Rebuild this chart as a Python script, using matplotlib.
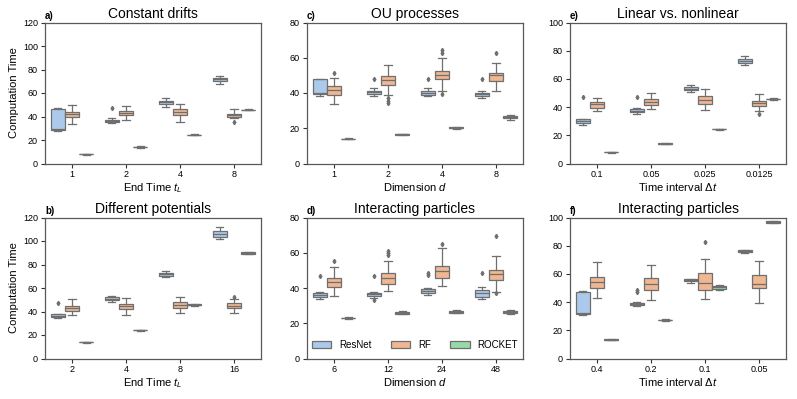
import colorsys
import matplotlib
matplotlib.use("Agg")
import matplotlib.pyplot as plt
import matplotlib.colors as mcolors
from matplotlib.patches import Patch

plt.rcParams['font.family'] = ['Liberation Sans', 'DejaVu Sans']
plt.rcParams['mathtext.fontset'] = 'custom'
plt.rcParams['mathtext.rm'] = 'Liberation Sans'
plt.rcParams['mathtext.it'] = 'Liberation Sans:italic'

METHODS = ["ResNet", "RF", "ROCKET"]
BASE_COLORS = ["#a1c9f4", "#ffb482", "#8de5a1"]

# five-number summaries per category: [whislo, q1, median, q3, whishi]
# ---- a) Constant drifts
A_CATS = ["1", "2", "4", "8"]
A_RESNET = [[27.3, 28.5, 29.5, 46.5, 47.2], [34.2, 35.1, 36.3, 37.4, 38.3],
            [48.4, 50.7, 52.4, 53.5, 55.8], [68.0, 70.2, 71.6, 73.0, 74.4]]
A_RESNET_FL = [[], [47.3], [], []]
A_RF = [[33.7, 39.7, 41.8, 43.9, 49.8], [36.8, 41.0, 43.0, 44.8, 49.3],
        [35.1, 41.4, 44.1, 46.4, 50.4], [38.8, 39.7, 41.0, 42.5, 46.1]]
A_RF_FL = [[], [], [], [35.2]]
A_ROCKET = [[7.5, 7.7, 7.9, 8.1, 8.4], [13.4, 13.7, 13.9, 14.1, 14.5],
            [24.1, 24.2, 24.4, 24.6, 24.8], [45.2, 45.4, 45.6, 45.9, 46.1]]
A_ROCKET_FL = [[], [], [], []]

# ---- b) Different potentials
B_CATS = ["2", "4", "8", "16"]
B_RESNET = [[34.2, 35.0, 36.4, 37.5, 38.1], [48.2, 49.5, 50.9, 52.3, 53.4],
            [69.4, 70.5, 71.6, 72.8, 74.2], [101.8, 103.8, 106.3, 108.3, 112.3]]
B_RESNET_FL = [[47.2], [], [], []]
B_RF = [[36.7, 40.4, 42.9, 44.9, 50.3], [36.7, 42.1, 44.4, 46.6, 51.2],
        [38.4, 42.9, 45.3, 47.8, 52.3], [38.8, 42.6, 44.4, 46.9, 51.0]]
B_RF_FL = [[], [], [], [52.5]]
B_ROCKET = [[13.6, 13.8, 13.9, 14.0, 14.2], [23.8, 24.0, 24.2, 24.4, 24.6],
            [45.0, 45.5, 45.8, 46.1, 46.6], [88.7, 89.0, 89.8, 90.4, 90.6]]
B_ROCKET_FL = [[], [], [], []]

# ---- c) OU processes
C_CATS = ["1", "2", "4", "8"]
C_RESNET = [[38.5, 39.2, 40.2, 47.8, 48.1], [38.1, 39.6, 40.6, 41.3, 42.6],
            [38.1, 38.8, 40.0, 40.9, 42.6], [37.0, 38.3, 39.3, 40.0, 41.0]]
C_RESNET_FL = [[], [48.1], [48.1], [48.1]]
C_RF = [[33.5, 39.0, 41.7, 43.9, 48.7], [39.0, 44.5, 47.4, 49.8, 56.1],
        [41.0, 48.1, 50.4, 52.7, 59.8], [41.3, 47.0, 50.3, 51.6, 56.9]]
C_RF_FL = [[51.2], [37.0, 35.4, 34.2], [39.5, 62.5, 64.5], [62.9]]
C_ROCKET = [[13.8, 13.9, 14.0, 14.1, 14.2], [16.3, 16.4, 16.5, 16.6, 16.7],
            [19.8, 20.1, 20.3, 20.5, 20.8], [24.8, 25.8, 26.3, 27.0, 27.8]]
C_ROCKET_FL = [[], [], [], []]

# ---- d) Interacting particles (dimension)
D_CATS = ["6", "12", "24", "48"]
D_RESNET = [[34.0, 34.7, 35.8, 37.0, 37.7], [34.3, 35.7, 36.4, 37.2, 37.5],
            [36.3, 37.0, 38.3, 39.2, 40.0], [33.5, 35.1, 37.0, 38.7, 40.3]]
D_RESNET_FL = [[46.8], [33.3, 46.8], [47.3, 48.4], [48.4]]
D_RF = [[35.6, 40.8, 43.6, 45.9, 51.7], [38.1, 42.3, 45.5, 48.7, 55.1],
        [41.1, 45.7, 49.5, 52.5, 62.7], [37.6, 44.7, 47.8, 50.4, 58.2]]
D_RF_FL = [[55.3], [58.8, 60.0, 61.0], [65.2], [37.0, 69.5]]
D_ROCKET = [[22.5, 22.7, 22.9, 23.1, 23.4], [25.2, 25.4, 26.0, 26.6, 26.9],
            [25.6, 25.9, 26.6, 26.9, 27.8], [25.2, 25.6, 26.2, 26.7, 27.6]]
D_ROCKET_FL = [[], [], [], []]

# ---- e) Linear vs. nonlinear
E_CATS = ["0.1", "0.05", "0.025", "0.0125"]
E_RESNET = [[27.5, 28.7, 30.0, 31.3, 31.7], [35.2, 36.2, 37.4, 38.6, 39.3],
            [50.5, 52.1, 53.0, 54.0, 55.5], [69.6, 71.3, 72.7, 74.1, 76.5]]
E_RESNET_FL = [[47.1], [47.3], [], []]
E_RF = [[37.0, 39.3, 41.9, 43.8, 46.6], [38.3, 41.7, 43.8, 46.0, 50.2],
        [37.7, 41.9, 44.8, 47.6, 52.8], [37.5, 41.0, 42.9, 44.6, 49.0]]
E_RF_FL = [[], [], [], [35.2]]
E_ROCKET = [[7.8, 7.9, 8.1, 8.2, 8.4], [13.6, 13.8, 14.0, 14.2, 14.8],
            [24.1, 24.2, 24.4, 24.6, 24.8], [45.2, 45.5, 45.7, 45.9, 46.1]]
E_ROCKET_FL = [[], [], [], []]

# ---- f) Interacting particles (time interval)
F_CATS = ["0.4", "0.2", "0.1", "0.05"]
F_RESNET = [[31.0, 31.8, 32.4, 47.1, 48.1], [37.2, 37.7, 38.6, 39.6, 40.0],
            [53.5, 54.7, 55.4, 56.1, 56.6], [75.1, 75.3, 76.1, 77.0, 77.2]]
F_RESNET_FL = [[], [46.9, 48.8], [], []]
F_RF = [[42.9, 50.2, 54.0, 58.1, 68.5], [41.5, 48.5, 52.8, 57.3, 66.6],
        [42.4, 48.5, 53.8, 60.4, 70.8], [39.6, 49.8, 52.6, 59.0, 68.9]]
F_RF_FL = [[], [], [82.9], []]
F_ROCKET = [[13.0, 13.2, 13.3, 13.5, 13.8], [26.8, 27.0, 27.2, 27.5, 27.9],
            [48.8, 49.5, 50.7, 51.6, 52.3], [95.9, 96.0, 96.9, 97.5, 97.7]]
F_ROCKET_FL = [[], [], [], []]

PANELS = [
    ("a)", "Constant drifts", "End Time $t_L$", A_CATS, 120,
     [(A_RESNET, A_RESNET_FL), (A_RF, A_RF_FL), (A_ROCKET, A_ROCKET_FL)]),
    ("c)", "OU processes", "Dimension $d$", C_CATS, 80,
     [(C_RESNET, C_RESNET_FL), (C_RF, C_RF_FL), (C_ROCKET, C_ROCKET_FL)]),
    ("e)", "Linear vs. nonlinear", "Time interval $\\Delta t$", E_CATS, 100,
     [(E_RESNET, E_RESNET_FL), (E_RF, E_RF_FL), (E_ROCKET, E_ROCKET_FL)]),
    ("b)", "Different potentials", "End Time $t_L$", B_CATS, 120,
     [(B_RESNET, B_RESNET_FL), (B_RF, B_RF_FL), (B_ROCKET, B_ROCKET_FL)]),
    ("d)", "Interacting particles", "Dimension $d$", D_CATS, 80,
     [(D_RESNET, D_RESNET_FL), (D_RF, D_RF_FL), (D_ROCKET, D_ROCKET_FL)]),
    ("f)", "Interacting particles", "Time interval $\\Delta t$", F_CATS, 100,
     [(F_RESNET, F_RESNET_FL), (F_RF, F_RF_FL), (F_ROCKET, F_ROCKET_FL)]),
]


def desat(c, prop=0.75):
    r, g, b = mcolors.to_rgb(c)
    h, l, s = colorsys.rgb_to_hls(r, g, b)
    return colorsys.hls_to_rgb(h, l, s * prop)


COLORS = [desat(c) for c in BASE_COLORS]
lum = min(colorsys.rgb_to_hls(*c)[1] for c in COLORS) * 0.6
GRAY = (lum, lum, lum)

fig = plt.figure(figsize=(7.97, 3.99), dpi=100)
lefts = [45, 307, 570]
tops = [22.5, 217.5]
W, H = 216, 141

for i, (lab, title, xlabel, cats, ymax, series) in enumerate(PANELS):
    col = i % 3
    row = i // 3
    ax = fig.add_axes([lefts[col] / 797, 1 - (tops[row] + H) / 399, W / 797, H / 399])
    n = len(METHODS)
    bw = 0.8 / n
    for m, (stats5, fliers) in enumerate(series):
        offset = -0.4 + bw * (m + 0.5)
        stats = []
        for k, (lo, q1, med, q3, hi) in enumerate(stats5):
            stats.append(dict(whislo=lo, q1=q1, med=med, q3=q3, whishi=hi,
                              fliers=fliers[k]))
        pos = [k + offset for k in range(len(cats))]
        ax.bxp(stats, positions=pos, widths=bw * 0.98, patch_artist=True,
               showfliers=True, manage_ticks=False,
               boxprops=dict(facecolor=COLORS[m], edgecolor=GRAY, linewidth=0.9),
               medianprops=dict(color=GRAY, linewidth=0.9),
               whiskerprops=dict(color=GRAY, linewidth=0.9),
               capprops=dict(color=GRAY, linewidth=0.9),
               flierprops=dict(marker='d', markersize=2.2, markerfacecolor=GRAY,
                               markeredgecolor=GRAY, linestyle='none'))
    ax.set_xlim(-0.5, len(cats) - 0.5)
    ax.set_ylim(0, ymax)
    ax.set_xticks(range(len(cats)))
    ax.set_xticklabels(cats)
    ax.tick_params(labelsize=6.5, length=3, width=0.8, color='0.2', pad=2)
    for s in ax.spines.values():
        s.set_color('0.35')
        s.set_linewidth(0.9)
    ax.set_title(title, fontsize=10, pad=3)
    ax.text(0.0, 1.012, lab, transform=ax.transAxes, fontsize=7, fontweight='bold',
            ha='left', va='bottom')
    ax.set_xlabel(xlabel, fontsize=8, labelpad=1)
    if col == 0:
        ax.set_ylabel("Computation Time", fontsize=8, labelpad=3)
    if lab == "d)":
        handles = [Patch(facecolor=COLORS[m], edgecolor=GRAY, linewidth=0.9)
                   for m in range(n)]
        ax.legend(handles, METHODS, loc='lower center', ncol=3, frameon=False,
                  fontsize=7, handlelength=2.0, columnspacing=2.0,
                  bbox_to_anchor=(0.5, 0.0))

fig.savefig("out.png", dpi=100)
